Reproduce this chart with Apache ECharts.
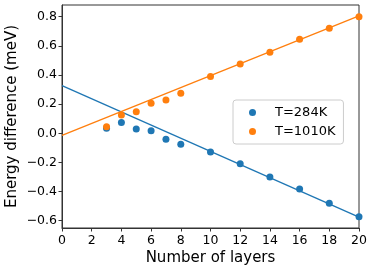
<!DOCTYPE html>
<html><head><meta charset="utf-8">
<script src="https://cdn.jsdelivr.net/npm/echarts@6/dist/echarts.min.js"></script>
<style>html,body{margin:0;padding:0;background:#fff}#c{width:374px;height:271px}</style>
</head><body><div id="c"></div>
<script>
const layers = [3,4,5,6,7,8,10,12,14,16,18,20];
const t284 = [0.035,0.073,0.030,0.018,-0.041,-0.075,-0.128,-0.210,-0.300,-0.382,-0.480,-0.572];
const t1010 = [0.045,0.125,0.148,0.206,0.228,0.274,0.389,0.475,0.556,0.645,0.720,0.800];
const fitX = [0,20];
const fit284 = [0.327,-0.575];
const fit1010 = [-0.015,0.805];
const yTicks = [-0.6,-0.4,-0.2,0.0,0.2,0.4,0.6,0.8];
const xTicks = [0,2,4,6,8,10,12,14,16,18,20];
const names = ['T=284K','T=1010K'];
const blue = '#1f77b4', orange = '#ff7f0e';
const font = 'DejaVu Sans';
const chart = echarts.init(document.getElementById('c'));
const fmt = v => (v < 0 ? '\u2212' : '') + Math.abs(v).toFixed(1);
chart.setOption({
  animation:false,
  grid:{left:62,right:15,top:5,bottom:43,outerBoundsMode:'none',containLabel:false,show:true,borderColor:'#333',borderWidth:1},
  legend:{left:233,top:100,orient:'vertical',data:names,icon:'circle',itemWidth:7,itemHeight:7,
    itemGap:6,padding:[6,8,6,16],borderColor:'#ccc',borderWidth:1,borderRadius:3,
    textStyle:{fontFamily:font,fontSize:13,color:'#000',padding:[0,0,0,14]}},
  xAxis:{type:'value',min:0,max:20,interval:2,
    name:'Number of layers',nameLocation:'middle',nameGap:23,nameMoveOverlap:false,
    nameTextStyle:{fontFamily:font,fontSize:15,color:'#000'},
    axisLine:{onZero:false,lineStyle:{color:'#333'}},
    axisTick:{show:true,length:3.5,lineStyle:{color:'#333'}},
    axisLabel:{fontFamily:font,fontSize:12.5,color:'#000',margin:6},
    splitLine:{show:false}},
  yAxis:{type:'value',min:-0.65,max:0.88,
    name:'Energy difference (meV)',nameLocation:'middle',nameGap:42,nameMoveOverlap:false,
    nameTextStyle:{fontFamily:font,fontSize:15,color:'#000'},
    axisLine:{show:true,onZero:false,lineStyle:{color:'#333'}},
    axisTick:{show:true,length:3.5,customValues:yTicks,lineStyle:{color:'#333'}},
    axisLabel:{fontFamily:font,fontSize:12.5,color:'#000',margin:5,customValues:yTicks,formatter:fmt},
    splitLine:{show:false}},
  series:[
    {name:names[0],type:'scatter',symbolSize:7,itemStyle:{color:blue,opacity:1},
      data:layers.map((x,i)=>[x,t284[i]]),z:3},
    {name:names[1],type:'scatter',symbolSize:7,itemStyle:{color:orange,opacity:1},
      data:layers.map((x,i)=>[x,t1010[i]]),z:3},
    {name:'fit284',type:'line',data:fitX.map((x,i)=>[x,fit284[i]]),symbol:'none',
      lineStyle:{color:blue,width:1.3},z:2},
    {name:'fit1010',type:'line',data:fitX.map((x,i)=>[x,fit1010[i]]),symbol:'none',
      lineStyle:{color:orange,width:1.3},z:2}
  ]
});
</script></body></html>
